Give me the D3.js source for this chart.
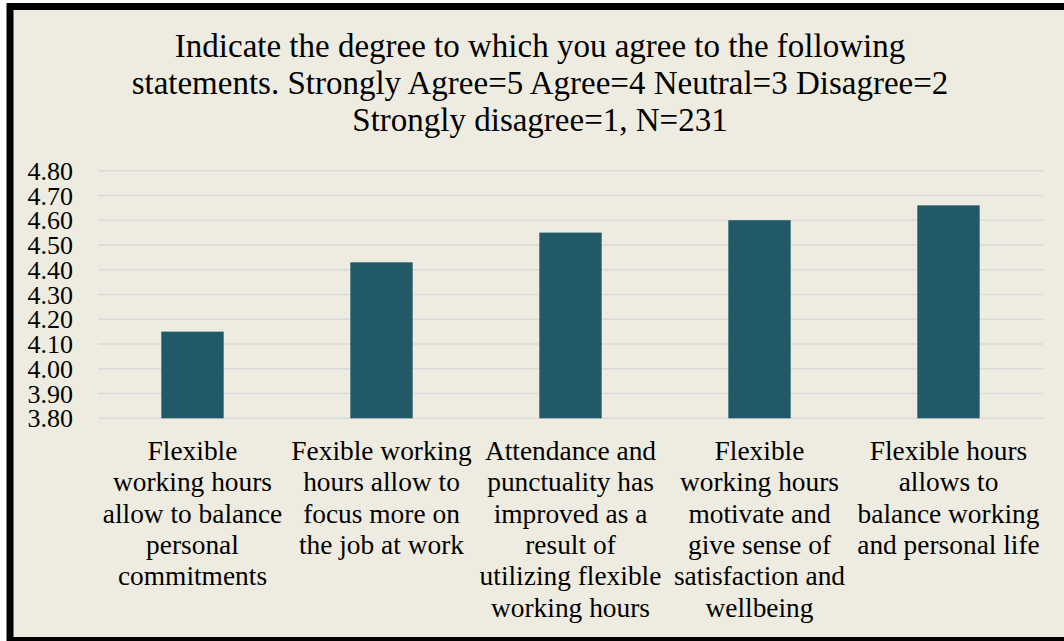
<!DOCTYPE html>
<html>
<head>
<meta charset="utf-8">
<script src="https://cdn.jsdelivr.net/npm/d3@7"></script>
<style>
  html, body { margin: 0; padding: 0; background: #ffffff; }
  svg { display: block; }
  text { font-family: "Liberation Serif", "Times New Roman", serif; fill: #000; }
</style>
</head>
<body>
<div id="chart"></div>
<script>
// Mean agreement score per statement
const categories = [
  "Flexible\nworking hours\nallow to balance\npersonal\ncommitments",
  "Fexible working\nhours allow to\nfocus more on\nthe job at work",
  "Attendance and\npunctuality has\nimproved as a\nresult of\nutilizing flexible\nworking hours",
  "Flexible\nworking hours\nmotivate and\ngive sense of\nsatisfaction and\nwellbeing",
  "Flexible hours\nallows to\nbalance working\nand personal life"
];
const values = [4.15, 4.43, 4.55, 4.60, 4.66];
const yTicks = [3.8, 3.9, 4.0, 4.1, 4.2, 4.3, 4.4, 4.5, 4.6, 4.7, 4.8];
const titleLines = [
  "Indicate the degree to which you agree to the following",
  "statements. Strongly Agree=5 Agree=4 Neutral=3 Disagree=2",
  "Strongly disagree=1, N=231"
];

const W = 1064, H = 641;
const svg = d3.select("#chart").append("svg").attr("width", W).attr("height", H);

// Frame: beige panel with heavy black border
svg.append("rect")
  .attr("x", 10).attr("y", 6.5)
  .attr("width", 1064).attr("height", 634)
  .attr("fill", "#EEECE1")
  .attr("stroke", "#000").attr("stroke-width", 7);

// Title
svg.append("g").selectAll("text").data(titleLines).join("text")
  .attr("x", 540)
  .attr("y", (d, i) => 57 + i * 37)
  .attr("text-anchor", "middle")
  .style("font-size", "33px")
  .text(d => d);

const plot = { left: 98, right: 1043, top: 170.7, bottom: 418.3 };

const x = d3.scaleBand()
  .domain(categories)
  .range([plot.left, plot.right])
  .paddingInner(0.67)
  .paddingOuter(0.335);

const y = d3.scaleLinear()
  .domain([3.8, 4.8])
  .range([plot.bottom, plot.top]);

// Horizontal gridlines
svg.append("g").selectAll("line").data(yTicks).join("line")
  .attr("x1", plot.left).attr("x2", plot.right)
  .attr("y1", d => y(d)).attr("y2", d => y(d))
  .attr("stroke", "#D9D9D9").attr("stroke-width", 1.5);

// Y axis labels
const yAxis = d3.axisLeft(y).tickValues(yTicks).tickFormat(d3.format(".2f")).tickSize(0).tickPadding(0);
const gy = svg.append("g").attr("transform", "translate(73,0)").call(yAxis);
gy.select(".domain").remove();
gy.selectAll("text")
  .style("font-size", "26px")
  .style("font-family", "'Liberation Serif', 'Times New Roman', serif")
  .attr("fill", "#000")
  .attr("dy", "0.33em");

// Bars
svg.append("g").selectAll("rect").data(values).join("rect")
  .attr("x", (d, i) => x(categories[i]))
  .attr("width", x.bandwidth())
  .attr("y", d => y(d))
  .attr("height", d => y(3.8) - y(d))
  .attr("fill", "#215968");

// Category labels
const cat = svg.append("g").selectAll("text").data(categories).join("text")
  .attr("text-anchor", "middle")
  .style("font-size", "27.4px");
cat.each(function(d) {
  const cx = x(d) + x.bandwidth() / 2;
  d3.select(this).selectAll("tspan").data(d.split("\n")).join("tspan")
    .attr("x", cx)
    .attr("y", (t, i) => 460 + i * 31.3)
    .text(t => t);
});
</script>
</body>
</html>
